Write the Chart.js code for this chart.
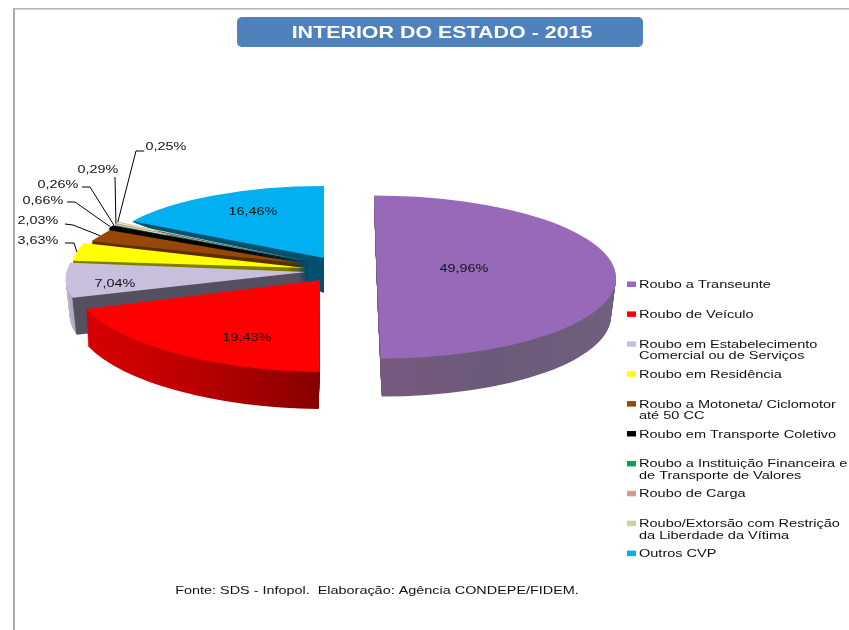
<!DOCTYPE html>
<html><head><meta charset="utf-8">
<style>html,body{margin:0;padding:0;background:#fff}canvas{display:block}</style>
<script src="https://cdn.jsdelivr.net/npm/chart.js@4"></script></head>
<body><canvas id="c" width="849" height="630"></canvas>
<script>
const titleText = 'INTERIOR DO ESTADO - 2015';
const sourceText = 'Fonte: SDS - Infopol.  Elaboração: Agência CONDEPE/FIDEM.';
const categories = ['Roubo a Transeunte','Roubo de Veículo','Roubo em Estabelecimento Comercial ou de Serviços','Roubo em Residência','Roubo a Motoneta/ Ciclomotor até 50 CC','Roubo em Transporte Coletivo','Roubo a Instituição Financeira e de Transporte de Valores','Roubo de Carga','Roubo/Extorsão com Restrição da Liberdade da Vítima','Outros CVP'];
const shares = [49.96,19.43,7.04,3.63,2.03,0.66,0.26,0.29,0.25,16.46];
const colors = ['#9869b8','#ff0000','#c8bfdc','#ffff00','#974806','#000000','#00a651','#d99694','#c3d69b','#00b0f0'];
const legendBreaks = {2:24,4:29,6:32,8:29};

// Projection of each slice: centre, ellipse axes, shear, then wall depth
const drawOrder = [9,8,7,6,5,4,3,2,1,0];
const look = {
 0:{X:377,Y:277,a:239,b:0,c:3,d:81.5,depth:38,sx:1,da:-6,wall:[[0,'#77597f'],[.5,'#6b5a78'],[1,'#71607d']]},
 1:{X:320,Y:280,a:249,b:3,c:-1,d:92,depth:37,sx:-1,da:-3,wall:[[-.95,'#d80000'],[-.5,'#bb0000'],[0,'#880000']]},
 2:{X:306,Y:272,a:239,b:2,c:-26,d:80,depth:37,sx:4,da:0,wall:[[-1,'#c4bed2'],[-.945,'#aca6ba'],[-.94,'#55505f'],[0,'#55505f']]},
 3:{X:306,Y:268,a:234,b:0,c:0,d:80,depth:5,sx:0,da:0,wall:[[-1,'#7d7d00'],[1,'#7d7d00']]},
 4:{X:306,Y:264,a:245,b:-6,c:-58,d:91,depth:4,sx:0,da:0,wall:[[-1,'#5c2e00'],[1,'#5c2e00']]},
 5:{X:309,Y:262,a:222,b:0,c:0,d:78,depth:18,sx:0,da:0,wall:[[-1,'#000'],[1,'#000']]},
 6:{X:306,Y:262,a:218,b:0,c:0,d:77,depth:0},
 7:{X:306,Y:261.5,a:218,b:0,c:0,d:77,depth:0},
 8:{X:306,Y:261,a:218,b:0,c:0,d:77,depth:0},
 9:{X:324,Y:258,a:223,b:0,c:0,d:72,depth:0,back:{Y:293,a:223,b:29,c:0,d:90,color:'#00506e'}}
};
const labelAt = [[464,268],[247,337],[115,283],[38,240],[38,220],[43,200],[58,184],[98,169],[166,146],[253,211]];
const leaders = {3:[[65,243],[74,243]],4:[[65,224],[73,225]],5:[[67,202],[75,202]],6:[[82,187],[90,187]],7:[[115,177]],8:[[144,151],[136,151]]};

function pct(v){return v.toFixed(2).replace('.',',')+'%';}
function stretched(ctx,s,x,y,font,sx,align,color){
  ctx.save();ctx.font=font;ctx.fillStyle=color;ctx.textAlign=align;ctx.textBaseline='middle';
  ctx.translate(x,y+1);ctx.scale(sx,1);ctx.fillText(s,0,0);ctx.restore();
}
function place(ctx,el,g){
  ctx.translate(g.X,g.Y);
  ctx.transform(g.a/el.outerRadius,g.b/el.outerRadius,g.c/el.outerRadius,g.d/el.outerRadius,0,0);
  ctx.translate(-el.x,-el.y);
}
function paint(ctx,el,g,fill){
  const keep=el.options;
  el.options=Object.assign({},keep,{backgroundColor:fill});
  ctx.save();place(ctx,el,g);el.draw(ctx);ctx.restore();
  el.options=keep;
}
const piePlugin={
  id:'pie3d',
  beforeDraw(chart){
    const ctx=chart.ctx;
    ctx.save();ctx.fillStyle='#fff';ctx.fillRect(0,0,849,630);
    ctx.fillStyle='#a8a8a8';ctx.fillRect(13,8,2,622);ctx.fillStyle='#b4b4b4';ctx.fillRect(13,8,836,1.5);
    ctx.fillStyle='#4f81bd';ctx.beginPath();ctx.roundRect(237,17,406,30,5);ctx.fill();ctx.restore();
    stretched(ctx,titleText,442,32,'bold 17px "Liberation Sans"',1.26,'center','#fff');
  },
  beforeDatasetDraw(chart){
    const ctx=chart.ctx,arcs=chart.getDatasetMeta(0).data;
    drawOrder.forEach(i=>{
      const el=arcs[i],g=look[i];
      if(g.back) paint(ctx,el,Object.assign({},g,g.back),g.back.color);
      if(g.depth){
        const R=el.outerRadius,grad=ctx.createLinearGradient(el.x-R,0,el.x+R,0);
        g.wall.forEach(s=>grad.addColorStop((s[0]+1)/2,s[1]));
        for(let t=g.depth;t>=1;t--){
          const f=t/g.depth;
          paint(ctx,el,Object.assign({},g,{X:g.X+g.sx*f,Y:g.Y+t,a:g.a+g.da*f}),grad);
        }
      }
      paint(ctx,el,g,colors[i]);
    });
    return false;
  },
  afterDraw(chart){
    const ctx=chart.ctx,arcs=chart.getDatasetMeta(0).data;
    ctx.save();ctx.strokeStyle='#000';ctx.lineWidth=1;
    Object.keys(leaders).forEach(k=>{
      const el=arcs[k],g=look[k],m=(el.startAngle+el.endAngle)/2,ux=Math.cos(m),uy=Math.sin(m);
      ctx.beginPath();
      leaders[k].forEach((p,j)=>j?ctx.lineTo(p[0],p[1]):ctx.moveTo(p[0],p[1]));
      ctx.lineTo(g.X+g.a*ux+g.c*uy,g.Y+g.b*ux+g.d*uy);ctx.stroke();
    });
    ctx.restore();
    shares.forEach((v,i)=>stretched(ctx,pct(v),labelAt[i][0],labelAt[i][1],'11.5px "Liberation Sans"',1.25,'center','#111'));
    categories.forEach((name,i)=>{
      const y=284+i*29.9;
      ctx.fillStyle=colors[i];ctx.fillRect(627,y-2.5,9,5.5);
      const cut=legendBreaks[i];
      if(cut){
        stretched(ctx,name.slice(0,cut).trim(),639,y,'11px "Liberation Sans"',1.32,'left','#111');
        stretched(ctx,name.slice(cut).trim(),639,y+11.5,'11px "Liberation Sans"',1.32,'left','#111');
      } else stretched(ctx,name,639,y,'11px "Liberation Sans"',1.32,'left','#111');
    });
    stretched(ctx,sourceText,377,590,'11px "Liberation Sans"',1.31,'center','#111');
  }
};
new Chart(document.getElementById('c'),{
  type:'pie',
  data:{labels:categories,datasets:[{data:shares,backgroundColor:colors,borderWidth:0}]},
  options:{responsive:false,animation:false,events:[],plugins:{legend:{display:false},tooltip:{enabled:false},title:{display:false}}},
  plugins:[piePlugin]
});
</script></body></html>
